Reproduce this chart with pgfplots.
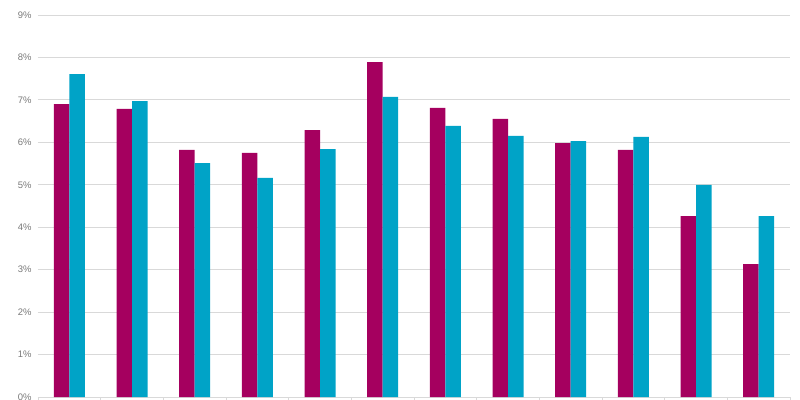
\documentclass[border=0pt]{standalone}
\usepackage{pgfplots}
\pgfplotsset{compat=1.18}
\usepackage{fontspec}
\setmainfont{Liberation Sans}
\definecolor{mag}{RGB}{165,0,95}
\definecolor{cya}{RGB}{0,163,199}
\definecolor{gridc}{RGB}{217,217,217}
\definecolor{tickc}{RGB}{120,120,120}
\begin{document}
\begin{tikzpicture}
\useasboundingbox (-38bp,-3bp) rectangle (762bp,397bp);
\begin{axis}[
  scale only axis,
  width=752bp, height=382bp,
  ybar=0pt, bar width=15.5bp,
  xmin=-0.5, xmax=11.5,
  ymin=0, ymax=9,
  ytick={0,1,...,9},
  yticklabel={\pgfmathprintnumber{\tick}\%},
  /pgf/number format/assume math mode=true,
  yticklabel style={font=\fontsize{9.5}{11}\selectfont, text=tickc},
  ymajorgrids, grid style={gridc, line width=0.8pt},
  major y tick style={draw=none},
  xtick={-0.5,0.5,...,11.5},
  xticklabels={},
  major x tick style={gridc, line width=0.8pt},
  tick align=outside,
  major tick length=3bp,
  axis x line*=bottom, axis y line*=left,
  x axis line style={gridc, line width=0.8pt, -},
  y axis line style={draw=none},
  clip=false,
]
\addplot[fill=mag, draw=none] coordinates {(0,6.90) (1,6.79) (2,5.82) (3,5.75) (4,6.29) (5,7.89) (6,6.81) (7,6.55) (8,5.98) (9,5.82) (10,4.26) (11,3.13)};
\addplot[fill=cya, draw=none] coordinates {(0,7.61) (1,6.97) (2,5.51) (3,5.16) (4,5.84) (5,7.07) (6,6.39) (7,6.15) (8,6.03) (9,6.13) (10,5.00) (11,4.26)};
\end{axis}
\end{tikzpicture}
\end{document}
